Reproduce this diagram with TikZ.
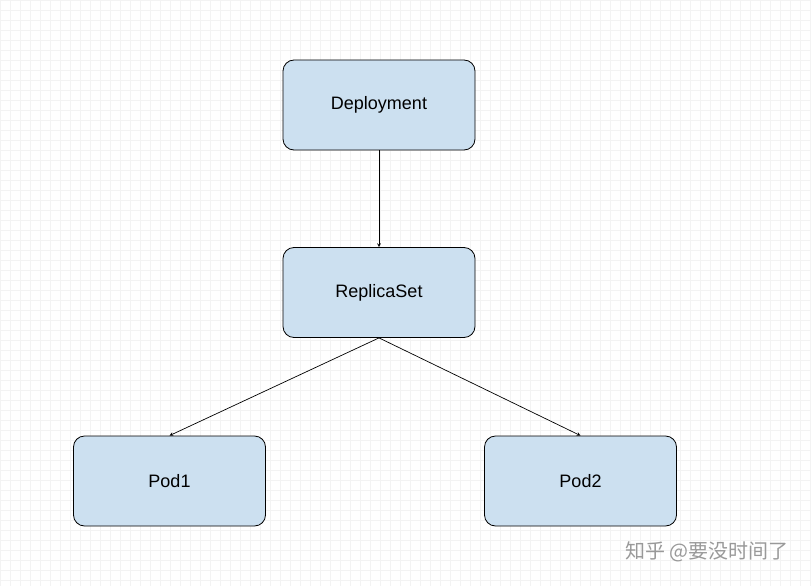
\documentclass[tikz,border=0pt]{standalone}
\usepackage{fontspec}
\setmainfont{Liberation Sans}
\newfontfamily\cjk{Noto Sans CJK SC}
\definecolor{boxfill}{HTML}{CCE0F0}
\definecolor{gridc}{HTML}{F3F3F3}
\begin{document}
\begin{tikzpicture}[x=1pt,y=-1pt,
  box/.style={draw=black,fill=boxfill,rounded corners=11pt,minimum width=192pt,minimum height=90pt,font=\fontsize{18}{20}\selectfont,line width=0.8pt},
  conn/.style={-stealth,line width=0.7pt}]
\useasboundingbox (0,0) rectangle (811,586);
\fill[white] (0,0) rectangle (811,586);
\draw[gridc,line width=0.6pt,step=10pt] (0,0) grid (811,586);
\node[box] (dep) at (379,105) {Deployment};
\node[box] (rs) at (379,292.5) {ReplicaSet};
\node[box] (p1) at (169.5,481) {Pod1};
\node[box] (p2) at (580.5,481) {Pod2};
\draw[conn] (dep.south) -- (rs.north);
\draw[conn] (rs.south) -- (p1.north);
\draw[conn] (rs.south) -- (p2.north);
\node[text=gray!80,font=\cjk\fontsize{20}{22}\selectfont,anchor=east] (wm) at (792,552) {知乎 @要没时间了};
\end{tikzpicture}
\end{document}
